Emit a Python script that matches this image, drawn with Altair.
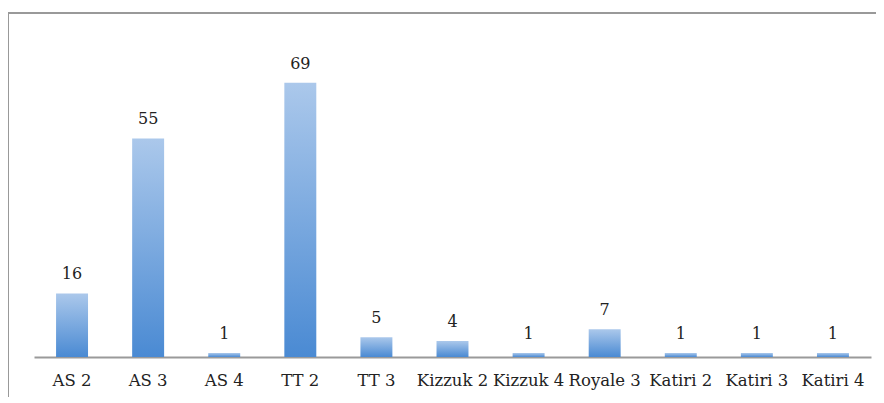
import altair as alt
import pandas as pd

categories = ["AS 2", "AS 3", "AS 4", "TT 2", "TT 3", "Kizzuk 2", "Kizzuk 4",
              "Royale 3", "Katiri 2", "Katiri 3", "Katiri 4"]
counts = [16, 55, 1, 69, 5, 4, 1, 7, 1, 1, 1]

df = pd.DataFrame({"cat": categories, "n": counts})

x_enc = alt.X("cat:N", sort=categories,
              scale=alt.Scale(paddingInner=0.58, paddingOuter=0.29),
              axis=alt.Axis(title=None, labelAngle=0, ticks=False,
                            domainColor="#9a9a9a", domainWidth=2,
                            labelFont="DejaVu Serif", labelFontSize=16.5,
                            labelColor="#222222", labelPadding=15,
                            labelOverlap=False, labelLimit=200))
y_enc = alt.Y("n:Q", scale=alt.Scale(domain=[0, 80], nice=False),
              axis=None)

bars = alt.Chart(df).mark_bar(
    fill=alt.Gradient(gradient="linear",
                      stops=[alt.GradientStop(color="#abc8eb", offset=0),
                             alt.GradientStop(color="#4a8ad3", offset=1)],
                      x1=0, x2=0, y1=0, y2=1),
    cornerRadius=0,
).encode(x=x_enc, y=y_enc)

labels = alt.Chart(df).mark_text(
    baseline="bottom", dy=-11, font="DejaVu Serif", fontSize=16, color="#222222"
).encode(x=alt.X("cat:N", sort=categories), y="n:Q", text="n:Q")

frame_top = alt.Chart(df).mark_rule(color="#999999", strokeWidth=2).encode(
    x=alt.value(-26), x2=alt.value(900), y=alt.value(-26))
frame_left = alt.Chart(df).mark_rule(color="#999999", strokeWidth=2).encode(
    x=alt.value(-26), y=alt.value(-26), y2=alt.value(400))

chart = alt.layer(frame_top, frame_left, bars, labels).properties(
    width=837, height=318,
    background="white",
    padding={"left": 26, "top": 31, "right": 5, "bottom": 40},
    autosize=alt.AutoSizeParams(type="none"),
).configure_view(stroke=None)

chart.save("out.html", embed_options={"renderer": "svg", "actions": False})
